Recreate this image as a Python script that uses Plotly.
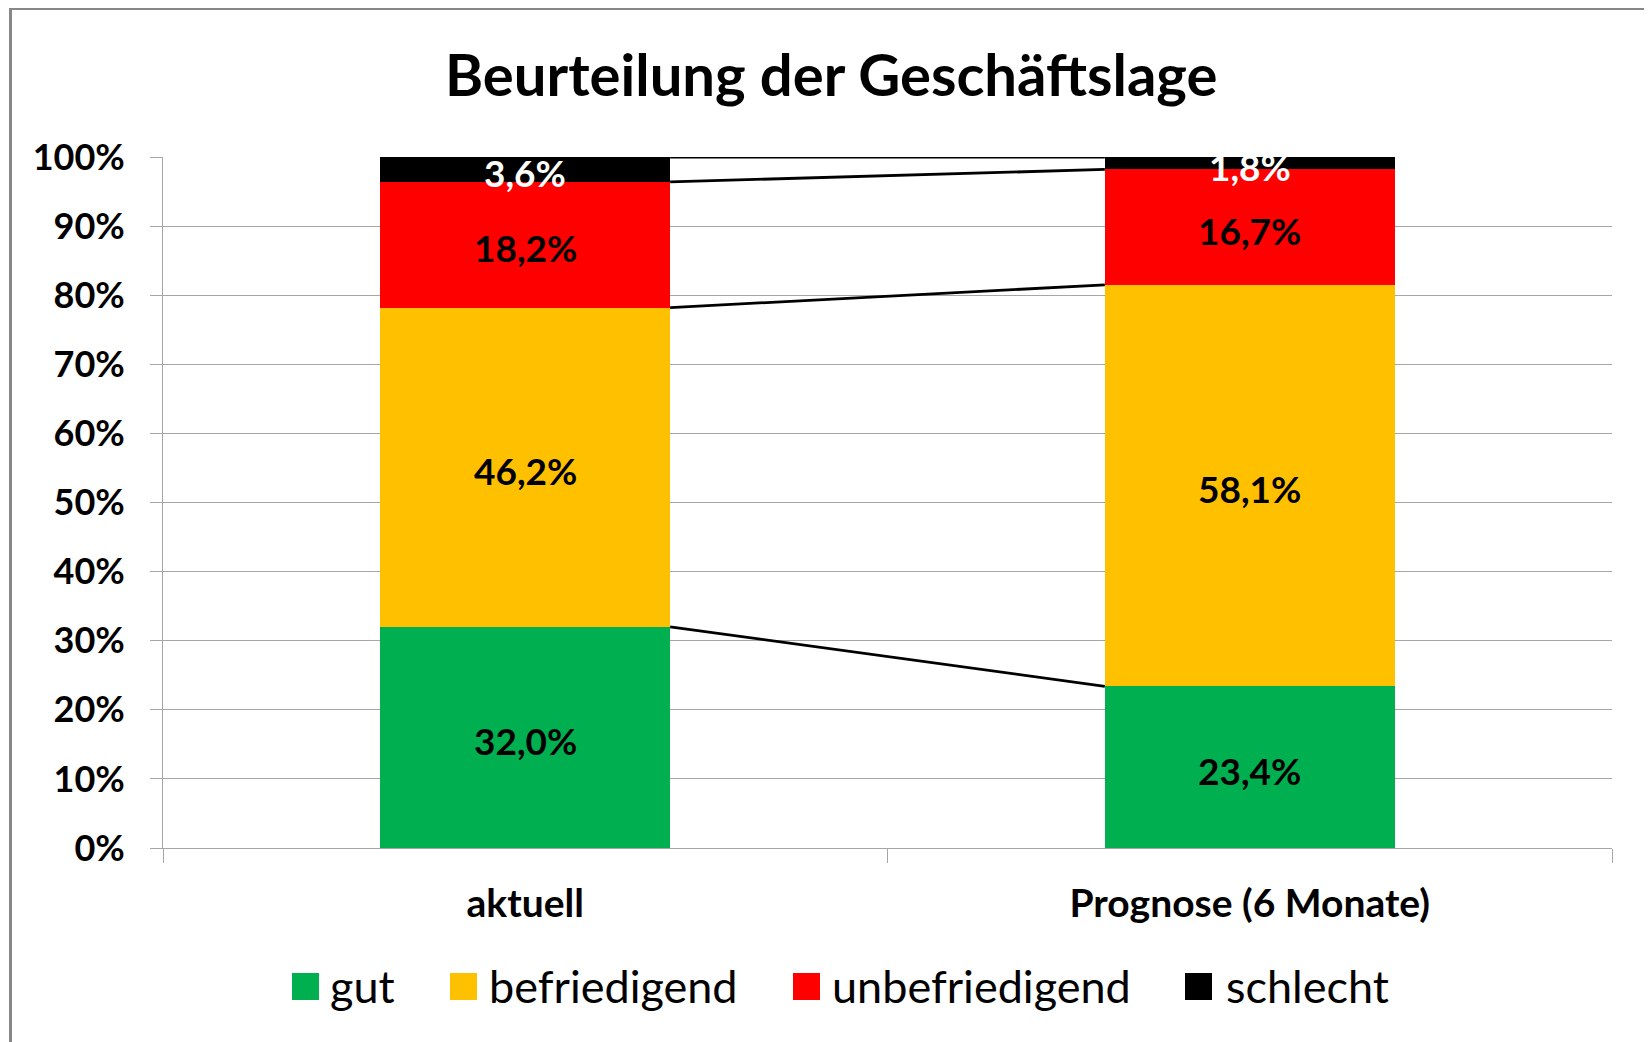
import plotly.graph_objects as go
import numpy as np

# ---------------- data ----------------
categories = ["aktuell", "Prognose (6 Monate)"]
series_names = ["gut", "befriedigend", "unbefriedigend", "schlecht"]
gut = [32.0, 23.4]
befriedigend = [46.2, 58.1]
unbefriedigend = [18.2, 16.7]
schlecht = [3.6, 1.8]
y_ticks = [0, 10, 20, 30, 40, 50, 60, 70, 80, 90, 100]
y_tick_labels = [f"{v}%" for v in y_ticks]
title_text = "Beurteilung der Geschäftslage"

# ---------------- style ----------------
colors = ["#00B050", "#FFC000", "#FF0000", "#000000"]
label_colors = ["#000000", "#000000", "#000000", "#FFFFFF"]
FONT = "Lato"
BAR_WIDTH = 0.4
OFF = 8  # page body margin
W, H = 1652 - OFF, 1042 - OFF
PLOT_L, PLOT_R, PLOT_T, PLOT_B = 163, 1612, 157, 848  # page pixels
ML, MR, MT, MB = PLOT_L - OFF, (W + OFF) - PLOT_R, PLOT_T - OFF, (H + OFF) - PLOT_B
PW, PH = PLOT_R - PLOT_L, PLOT_B - PLOT_T
GRID = "#A6A6A6"


def px_x(px):
    return (px - PLOT_L) / PW


def px_y(py):
    return (PLOT_B - py) / PH


def fmt(v):
    return f"{v:.1f}".replace(".", ",") + "%"


values = [gut, befriedigend, unbefriedigend, schlecht]
fig = go.Figure()

# bars
for name, vals, col in zip(series_names, values, colors):
    fig.add_trace(go.Bar(
        x=categories, y=vals, name=name, marker=dict(color=col, line=dict(width=0)),
        width=BAR_WIDTH, showlegend=False, hoverinfo="x+y+name",
    ))

# data labels at segment centres (annotations on the data axes)
annotations = []
cum = np.cumsum(np.array(values), axis=0)
for k, (vals, lc) in enumerate(zip(values, label_colors)):
    mids = cum[k] - np.array(vals) / 2
    for cat, m, v in zip(categories, mids, vals):
        annotations.append(dict(
            xref="x", yref="y", x=cat, y=m, text=fmt(v), showarrow=False,
            xanchor="center", yanchor="middle", yshift=-3,
            font=dict(family=FONT, size=37, color=lc, weight="bold"),
        ))

# connector lines between stacked boundaries
idx = np.arange(len(categories))
for k in range(len(values)):
    fig.add_trace(go.Scatter(
        x=[idx[0] + BAR_WIDTH / 2, idx[1] - BAR_WIDTH / 2], y=[cum[k][0], cum[k][1]],
        mode="lines", line=dict(color="#000000", width=2.8), xaxis="x2",
        showlegend=False, hoverinfo="skip",
    ))

# manual legend (large square swatches like the original)
legend_swatch_px = [292, 450, 793, 1185]
legend_text_px = [331, 490, 833, 1227]
shapes = []
for name, col, sx, tx in zip(series_names, colors, legend_swatch_px, legend_text_px):
    shapes.append(dict(type="rect", xref="paper", yref="paper",
                       x0=px_x(sx), x1=px_x(sx + 27), y0=px_y(1000), y1=px_y(973),
                       fillcolor=col, line=dict(width=0)))
    annotations.append(dict(xref="paper", yref="paper", x=px_x(tx - 3), y=px_y(986),
                            xanchor="left", yanchor="middle", showarrow=False, text=name,
                            font=dict(family=FONT, size=45, color="#000000")))

# outer frame
shapes.append(dict(type="rect", xref="paper", yref="paper",
                   x0=px_x(10.5), x1=px_x(1650), y0=px_y(1080), y1=px_y(8.5),
                   line=dict(color="#878787", width=3), fillcolor="rgba(0,0,0,0)", layer="below"))

fig.update_layout(
    width=W, height=H,
    margin=dict(l=ML, r=MR, t=MT, b=MB, autoexpand=False),
    paper_bgcolor="white", plot_bgcolor="white",
    barmode="stack",
    title=dict(text=title_text, x=(789 * 1652 / 1568 - OFF) / W, xanchor="center",
               y=1 - (76 - OFF) / H, yanchor="middle",
               font=dict(family=FONT, size=58, color="#000000", weight="bold")),
    showlegend=False,
    xaxis=dict(type="category", range=[-0.5, 1.5], showline=True, linecolor=GRID, linewidth=1,
               ticks="outside", tickson="boundaries", ticklen=14, tickcolor=GRID,
               showgrid=False, tickfont=dict(family=FONT, size=39, color="#000000", weight="bold"),
               ticklabelstandoff=21),
    xaxis2=dict(overlaying="x", range=[-0.5, 1.5], visible=False, showgrid=False),
    yaxis=dict(range=[0, 100], tickvals=y_ticks, ticktext=y_tick_labels, showline=True,
               linecolor=GRID, linewidth=1, ticks="outside", ticklen=12, tickcolor=GRID,
               gridcolor=GRID, gridwidth=1, zeroline=False, ticklabelstandoff=18,
               tickfont=dict(family=FONT, size=36, color="#000000", weight="bold")),
    shapes=shapes,
    annotations=annotations,
)

fig.write_html("out.html")
